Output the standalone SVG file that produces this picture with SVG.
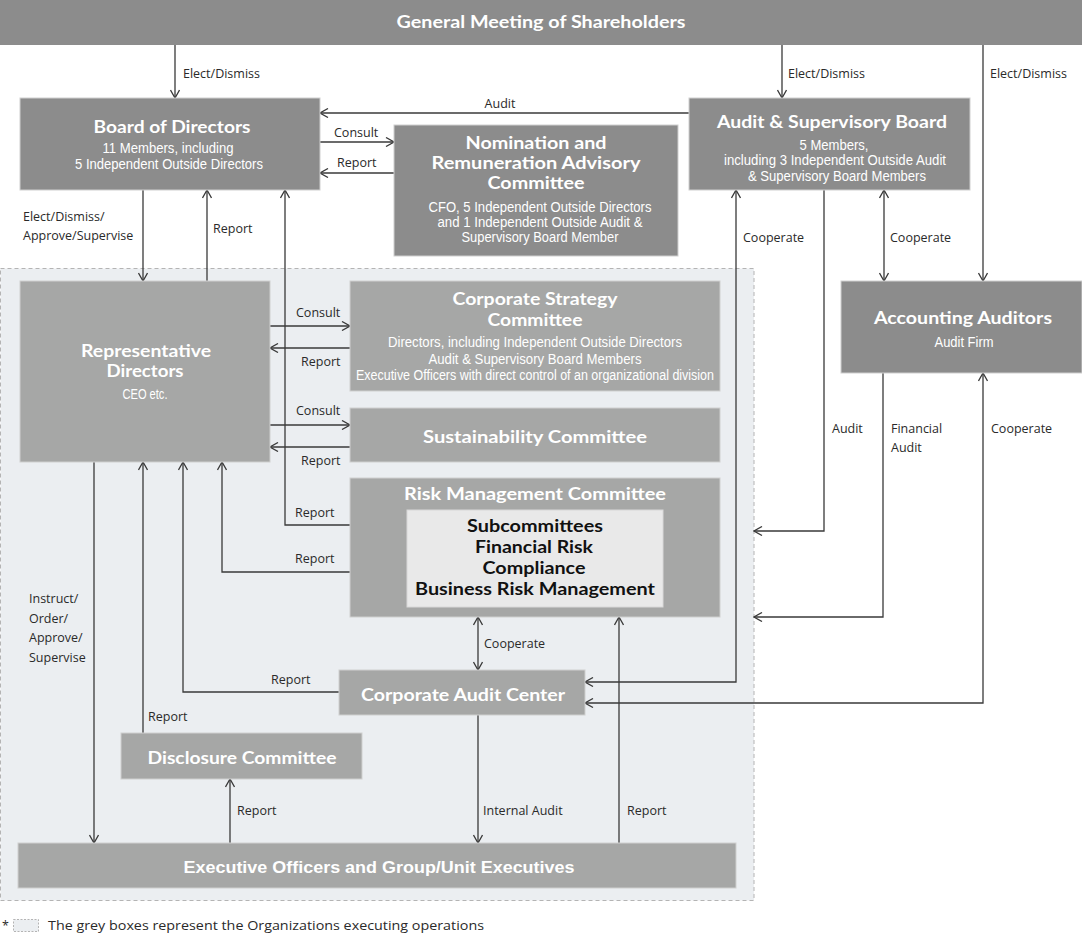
<svg xmlns="http://www.w3.org/2000/svg" width="1082" height="935" viewBox="0 0 1082 935">
<defs>
<style>
.dk{fill:#8c8c8c;stroke:#cfcfcf;stroke-width:1}
.lt{fill:#a6a7a6;stroke:#cfcfcf;stroke-width:1}
.inner{fill:#e9e9e9;stroke:#d8d8d8;stroke-width:1}
.ttl{font-family:Lato,"Open Sans",sans-serif;font-weight:700;font-size:16.5px;fill:#fff;text-anchor:middle}
.sub{font-family:"Liberation Sans Narrow","Liberation Sans",Arial,sans-serif;font-size:14px;fill:#fff;text-anchor:middle}
.blk{font-family:Lato,"Open Sans",sans-serif;font-weight:700;font-size:16.5px;fill:#111;text-anchor:middle}
.lbl{font-family:"Open Sans","Noto Sans",sans-serif;font-size:12.5px;fill:#2a2a2a}
.ln{fill:none;stroke:#3a3a3a;stroke-width:1.3}
.ar{marker-end:url(#ah)}
.ar2{marker-start:url(#ah);marker-end:url(#ah)}
</style>
<marker id="ah" viewBox="0 0 10 10" refX="9" refY="5" markerWidth="10" markerHeight="10" markerUnits="userSpaceOnUse" orient="auto-start-reverse">
<path d="M1,0.5 L9,5 L1,9.5" fill="none" stroke="#3a3a3a" stroke-width="1.3"/>
</marker>
</defs>
<rect width="1082" height="935" fill="#fff"/>

<g id="exec-region">
<rect x="0.5" y="268.5" width="753.5" height="632" fill="#ebeef1" stroke="#b4b4b4" stroke-width="1" stroke-dasharray="4,3"/>
</g>

<g id="connectors">
<path class="ln ar" d="M175,45 V98"/>
<path class="ln ar" d="M782,45 V98"/>
<path class="ln ar" d="M983,45 V281"/>
<path class="ln ar" d="M689,113 H320"/>
<path class="ln ar" d="M320,142 H394"/>
<path class="ln ar" d="M394,173 H320"/>
<path class="ln ar" d="M143,190 V281"/>
<path class="ln ar" d="M207,281 V190"/>
<path class="ln ar" d="M350,525 H285 V190"/>
<path class="ln ar2" d="M884,190 V281"/>
<path class="ln ar2" d="M736,190 V682 H585"/>
<path class="ln ar" d="M824,190 V531 H754"/>
<path class="ln ar" d="M883,373 V617 H754"/>
<path class="ln ar2" d="M983,373 V703 H585"/>
<path class="ln ar" d="M270,326 H350"/>
<path class="ln ar" d="M350,348 H270"/>
<path class="ln ar" d="M270,425 H350"/>
<path class="ln ar" d="M350,447 H270"/>
<path class="ln ar" d="M350,572 H222 V462"/>
<path class="ln ar" d="M339,692 H183 V462"/>
<path class="ln ar" d="M143,733 V462"/>
<path class="ln ar" d="M94,462 V843"/>
<path class="ln ar" d="M230,843 V779"/>
<path class="ln ar2" d="M478,617 V670"/>
<path class="ln ar" d="M478,715 V843"/>
<path class="ln ar" d="M619,843 V617"/>
</g>

<g id="labels">
<text class="lbl" x="183" y="78">Elect/Dismiss</text>
<text class="lbl" x="788" y="78">Elect/Dismiss</text>
<text class="lbl" x="990" y="78">Elect/Dismiss</text>
<text class="lbl" x="500" y="108" text-anchor="middle">Audit</text>
<text class="lbl" x="334" y="137">Consult</text>
<text class="lbl" x="337" y="167">Report</text>
<text class="lbl" x="23" y="221">Elect/Dismiss/</text>
<text class="lbl" x="23" y="240">Approve/Supervise</text>
<text class="lbl" x="213" y="233">Report</text>
<text class="lbl" x="743" y="242">Cooperate</text>
<text class="lbl" x="890" y="242">Cooperate</text>
<text class="lbl" x="296" y="317">Consult</text>
<text class="lbl" x="301" y="366">Report</text>
<text class="lbl" x="296" y="415">Consult</text>
<text class="lbl" x="301" y="465">Report</text>
<text class="lbl" x="295" y="517">Report</text>
<text class="lbl" x="295" y="563">Report</text>
<text class="lbl" x="832" y="433">Audit</text>
<text class="lbl" x="891" y="433">Financial</text>
<text class="lbl" x="891" y="452">Audit</text>
<text class="lbl" x="991" y="433">Cooperate</text>
<text class="lbl" x="29" y="603">Instruct/</text>
<text class="lbl" x="29" y="623">Order/</text>
<text class="lbl" x="29" y="642">Approve/</text>
<text class="lbl" x="29" y="662">Supervise</text>
<text class="lbl" x="484" y="648">Cooperate</text>
<text class="lbl" x="271" y="684">Report</text>
<text class="lbl" x="148" y="721">Report</text>
<text class="lbl" x="237" y="815">Report</text>
<text class="lbl" x="483" y="815">Internal Audit</text>
<text class="lbl" x="627" y="815">Report</text>
</g>

<g id="gms">
<rect x="0" y="0" width="1082" height="45" fill="#8c8c8c"/>
<text class="ttl" x="541" y="28" textLength="289" lengthAdjust="spacingAndGlyphs">General Meeting of Shareholders</text>
</g>

<g id="board">
<rect class="dk" x="20" y="98" width="300" height="92"/>
<text class="ttl" x="172" y="133" textLength="157" lengthAdjust="spacingAndGlyphs">Board of Directors</text>
<text class="sub" x="168" y="153" textLength="131" lengthAdjust="spacingAndGlyphs">11 Members, including</text>
<text class="sub" x="169" y="169" textLength="188" lengthAdjust="spacingAndGlyphs">5 Independent Outside Directors</text>
</g>

<g id="nomination">
<rect class="dk" x="394" y="125" width="284" height="131"/>
<text class="ttl" x="536" y="149" textLength="141" lengthAdjust="spacingAndGlyphs">Nomination and</text>
<text class="ttl" x="536" y="169" textLength="209" lengthAdjust="spacingAndGlyphs">Remuneration Advisory</text>
<text class="ttl" x="536" y="189" textLength="97" lengthAdjust="spacingAndGlyphs">Committee</text>
<text class="sub" x="540" y="212" textLength="223" lengthAdjust="spacingAndGlyphs">CFO, 5 Independent Outside Directors</text>
<text class="sub" x="540" y="227" textLength="205" lengthAdjust="spacingAndGlyphs">and 1 Independent Outside Audit &amp;</text>
<text class="sub" x="540" y="242" textLength="157" lengthAdjust="spacingAndGlyphs">Supervisory Board Member</text>
</g>

<g id="asb">
<rect class="dk" x="689" y="98" width="281" height="92"/>
<text class="ttl" x="832" y="128" textLength="230" lengthAdjust="spacingAndGlyphs">Audit &amp; Supervisory Board</text>
<text class="sub" x="834" y="150" textLength="69" lengthAdjust="spacingAndGlyphs">5 Members,</text>
<text class="sub" x="835" y="165" textLength="222" lengthAdjust="spacingAndGlyphs">including 3 Independent Outside Audit</text>
<text class="sub" x="837" y="181" textLength="178" lengthAdjust="spacingAndGlyphs">&amp; Supervisory Board Members</text>
</g>

<g id="auditors">
<rect class="dk" x="841" y="281" width="241" height="92"/>
<text class="ttl" x="963" y="324" textLength="178" lengthAdjust="spacingAndGlyphs">Accounting Auditors</text>
<text class="sub" x="964" y="347" textLength="59" lengthAdjust="spacingAndGlyphs">Audit Firm</text>
</g>

<g id="rep-directors">
<rect class="lt" x="20" y="281" width="250" height="181"/>
<text class="ttl" x="146" y="357" textLength="130" lengthAdjust="spacingAndGlyphs">Representative</text>
<text class="ttl" x="145" y="377" textLength="77" lengthAdjust="spacingAndGlyphs">Directors</text>
<text class="sub" x="145" y="399" font-size="12" textLength="45" lengthAdjust="spacingAndGlyphs">CEO etc.</text>
</g>

<g id="strategy">
<rect class="lt" x="350" y="281" width="370" height="110"/>
<text class="ttl" x="535" y="305" textLength="165" lengthAdjust="spacingAndGlyphs">Corporate Strategy</text>
<text class="ttl" x="535" y="326" textLength="95" lengthAdjust="spacingAndGlyphs">Committee</text>
<text class="sub" x="535" y="347" textLength="294" lengthAdjust="spacingAndGlyphs">Directors, including Independent Outside Directors</text>
<text class="sub" x="535" y="364" textLength="213" lengthAdjust="spacingAndGlyphs">Audit &amp; Supervisory Board Members</text>
<text class="sub" x="535" y="380" textLength="358" lengthAdjust="spacingAndGlyphs">Executive Officers with direct control of an organizational division</text>
</g>

<g id="sustainability">
<rect class="lt" x="350" y="408" width="370" height="54"/>
<text class="ttl" x="535" y="443" textLength="224" lengthAdjust="spacingAndGlyphs">Sustainability Committee</text>
</g>

<g id="risk">
<rect class="lt" x="350" y="478" width="370" height="139"/>
<text class="ttl" x="535" y="500" textLength="262" lengthAdjust="spacingAndGlyphs">Risk Management Committee</text>
<rect class="inner" x="407" y="510" width="256" height="97"/>
<text class="blk" x="535" y="532" textLength="136" lengthAdjust="spacingAndGlyphs">Subcommittees</text>
<text class="blk" x="534" y="553" textLength="118" lengthAdjust="spacingAndGlyphs">Financial Risk</text>
<text class="blk" x="534" y="574" textLength="103" lengthAdjust="spacingAndGlyphs">Compliance</text>
<text class="blk" x="535" y="595" textLength="240" lengthAdjust="spacingAndGlyphs">Business Risk Management</text>
</g>

<g id="audit-center">
<rect class="lt" x="339" y="670" width="246" height="45"/>
<text class="ttl" x="463" y="701" textLength="204" lengthAdjust="spacingAndGlyphs">Corporate Audit Center</text>
</g>

<g id="disclosure">
<rect class="lt" x="121" y="733" width="241" height="46"/>
<text class="ttl" x="242" y="764" textLength="189" lengthAdjust="spacingAndGlyphs">Disclosure Committee</text>
</g>

<g id="executives">
<rect class="lt" x="18" y="843" width="718" height="45"/>
<text class="ttl" x="379" y="873" style="font-family:'Liberation Sans',Arial,sans-serif" textLength="391" lengthAdjust="spacingAndGlyphs">Executive Officers and Group/Unit Executives</text>
</g>

<g id="legend">
<text class="lbl" x="2" y="930" font-size="12">*</text>
<rect x="13.5" y="919.5" width="25" height="12" fill="#ebeef1" stroke="#b4b4b4" stroke-width="1" stroke-dasharray="2,1.5"/>
<text class="lbl" x="48" y="930" font-size="13" textLength="436" lengthAdjust="spacingAndGlyphs">The grey boxes represent the Organizations executing operations</text>
</g>
</svg>
